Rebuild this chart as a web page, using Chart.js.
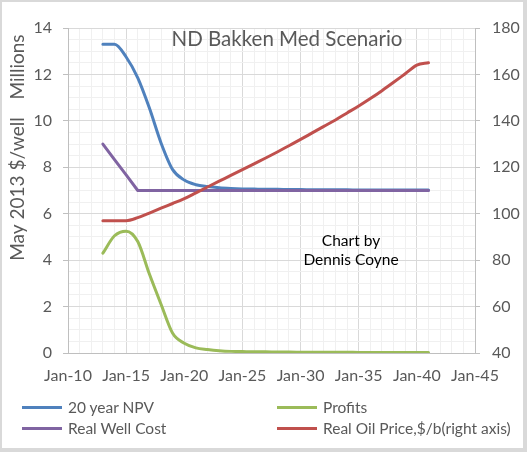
<!DOCTYPE html>
<html>
<head>
<meta charset="utf-8">
<script src="https://cdn.jsdelivr.net/npm/chart.js@4.4.0/dist/chart.umd.min.js"></script>
<style>
  html, body { margin: 0; padding: 0; background: #fff; }
  #wrap { position: relative; width: 527px; height: 452px; overflow: hidden; }
  #frame {
    position: absolute; left: 0; top: 0; width: 527px; height: 452px; box-sizing: border-box;
    border-style: solid; border-color: #d9d9d9; border-width: 2px 4px 4px 2px; pointer-events: none;
  }
  #legend { position: absolute; left: 0; top: 0; font: 15.5px Lato, sans-serif; color: #595959; }
  .item { position: absolute; display: flex; align-items: center; white-space: nowrap; transform: translateY(-50%); }
  .swatch { width: 40px; height: 3px; margin-right: 6px; }
</style>
</head>
<body>
<div id="wrap">
  <canvas id="chart" width="527" height="452"></canvas>
  <div id="legend"></div>
  <div id="frame"></div>
</div>
<script>
// one point per January, 2013 .. 2041
const years = [2013, 2014, 2015, 2016, 2017, 2018, 2019, 2020, 2021, 2022,
               2023, 2024, 2025, 2026, 2027, 2028, 2029, 2030, 2031, 2032,
               2033, 2034, 2035, 2036, 2037, 2038, 2039, 2040, 2041];

// millions of May 2013 $ per well (left axis)
const npv = [13.3, 13.3, 12.75, 11.85, 10.55, 9.05, 7.9, 7.45, 7.25, 7.17,
             7.12, 7.09, 7.07, 7.06, 7.05, 7.05, 7.04, 7.04, 7.03, 7.03,
             7.03, 7.03, 7.02, 7.02, 7.02, 7.02, 7.02, 7.02, 7.02];
const profits = [4.3, 5.05, 5.25, 4.8, 3.4, 2.1, 0.85, 0.42, 0.22, 0.15,
                 0.1, 0.07, 0.06, 0.05, 0.05, 0.04, 0.04, 0.035, 0.03, 0.03,
                 0.03, 0.03, 0.025, 0.025, 0.02, 0.02, 0.02, 0.02, 0.02];
const wellCost = [9.0, 8.33, 7.67, 7.0, 7.0, 7.0, 7.0, 7.0, 7.0, 7.0,
                  7.0, 7.0, 7.0, 7.0, 7.0, 7.0, 7.0, 7.0, 7.0, 7.0,
                  7.0, 7.0, 7.0, 7.0, 7.0, 7.0, 7.0, 7.0, 7.0];

// $/b (right axis)
const oilPrice = [97, 97, 97, 98.3, 100.3, 102.4, 104.4, 106.5, 109, 111.5,
                  114, 116.5, 119, 121.5, 124, 126.6, 129.3, 132, 134.8, 137.6,
                  140.4, 143.4, 146.4, 149.6, 153, 156.6, 160.3, 164, 165];

const seriesNames = ["20 year NPV", "Profits", "Real Well Cost", "Real Oil Price,$/b(right axis)"];
const seriesColors = ["#4f81bd", "#9bbb59", "#8064a2", "#c0504d"];

const TEXT = "#595959";
const MAJOR = "#d9d9d9";
const MINOR = "#f0f0f0";
const AXIS = "#bfbfbf";
const FONT = "Lato";

const pts = (vals) => years.map((yr, i) => ({ x: yr, y: vals[i] }));

const textPlugin = {
  id: "texts",
  afterDraw(chart) {
    const c = chart.ctx;
    c.save();
    c.textAlign = "center";
    c.textBaseline = "alphabetic";
    c.fillStyle = TEXT;
    c.font = `20.5px ${FONT}`;
    c.fillText("ND Bakken Med Scenario", 287, 46);

    c.fillStyle = "#000";
    c.font = `15.5px ${FONT}`;
    c.fillText("Chart by", 351, 246);
    c.fillText("Dennis Coyne", 351, 265);

    c.fillStyle = TEXT;
    c.font = `19px ${FONT}`;
    c.save();
    c.translate(24, 189);
    c.rotate(-Math.PI / 2);
    c.fillText("May 2013 $/well", 0, 0);
    c.restore();
    c.save();
    c.translate(24, 67);
    c.rotate(-Math.PI / 2);
    c.fillText("Millions", 0, 0);
    c.restore();
    c.restore();
  }
};

new Chart(document.getElementById("chart"), {
  type: "line",
  data: {
    datasets: [
      { label: seriesNames[0], data: pts(npv), borderColor: seriesColors[0], yAxisID: "y", order: 3 },
      { label: seriesNames[1], data: pts(profits), borderColor: seriesColors[1], yAxisID: "y", order: 2 },
      { label: seriesNames[2], data: pts(wellCost), borderColor: seriesColors[2], yAxisID: "y", order: 1, tension: 0, cubicInterpolationMode: "default" },
      { label: seriesNames[3], data: pts(oilPrice), borderColor: seriesColors[3], yAxisID: "y2", order: 0 }
    ]
  },
  options: {
    responsive: false,
    animation: false,
    layout: { padding: { top: 28, left: 0, right: 0, bottom: 0 } },
    plugins: { legend: { display: false }, tooltip: { enabled: false } },
    elements: {
      point: { radius: 0 },
      line: { borderWidth: 3, cubicInterpolationMode: "monotone", borderCapStyle: "round", borderJoinStyle: "round" }
    },
    scales: {
      x: {
        type: "linear",
        min: 2010,
        max: 2045,
        ticks: {
          stepSize: 1,
          autoSkip: false,
          maxRotation: 0,
          padding: 13,
          color: TEXT,
          font: { family: FONT, size: 16 },
          callback: v => v % 5 === 0 ? "Jan-" + String(v).slice(2) : ""
        },
        grid: { color: ctx => ctx.tick && ctx.tick.value % 5 === 0 ? MAJOR : MINOR, drawTicks: false },
        border: { color: AXIS },
        afterFit: s => { s.height = 99; }
      },
      y: {
        position: "left",
        min: 0,
        max: 14,
        ticks: {
          stepSize: 0.5,
          autoSkip: false,
          padding: 11,
          color: TEXT,
          font: { family: FONT, size: 16 },
          callback: v => v % 2 === 0 ? v : ""
        },
        grid: {
          color: ctx => ctx.tick && ctx.tick.value % 2 === 0 ? MAJOR : MINOR,
          tickLength: 5,
          tickColor: ctx => ctx.tick && ctx.tick.value % 2 === 0 ? AXIS : "rgba(0,0,0,0)"
        },
        border: { color: AXIS },
        afterFit: s => { s.width = 68; }
      },
      y2: {
        position: "right",
        min: 40,
        max: 180,
        ticks: {
          stepSize: 20,
          padding: 12,
          color: TEXT,
          font: { family: FONT, size: 16 }
        },
        grid: { drawOnChartArea: false, tickLength: 5, color: AXIS },
        border: { color: AXIS },
        afterFit: s => { s.width = 52; }
      }
    }
  },
  plugins: [textPlugin]
});

// two-column legend under the plot, same layout as the original
const legendPos = [[22, 407], [277, 407], [22, 428], [277, 428]];
const legend = document.getElementById("legend");
const legendOrder = [0, 1, 2, 3];
legendOrder.forEach((k, i) => {
  const item = document.createElement("div");
  item.className = "item";
  item.style.left = legendPos[i][0] + "px";
  item.style.top = legendPos[i][1] + "px";
  item.innerHTML = `<span class="swatch" style="background:${seriesColors[k]}"></span><span>${seriesNames[k]}</span>`;
  legend.appendChild(item);
});
</script>
</body>
</html>
